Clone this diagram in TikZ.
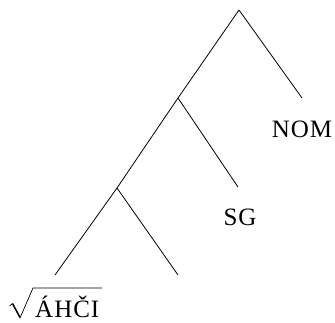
\documentclass[tikz,border=0pt]{standalone}
\usepackage{fontspec}
\setmainfont{Liberation Serif}[LetterSpace=4]
\begin{document}
\begin{tikzpicture}[x=1pt,y=1pt,
  edge/.style={line width=0.8pt},
  lbl/.style={font=\fontsize{25}{28}\selectfont, inner sep=0pt}]
\useasboundingbox (0,0) rectangle (335,322);
\coordinate (root) at (239,312);
\coordinate (n1) at (178,224);
\coordinate (nomend) at (302,224);
\coordinate (n2) at (117,134);
\coordinate (sgend) at (238,135);
\coordinate (leafA) at (55,47);
\coordinate (leafB) at (178,47);
\node[lbl] (nom) at (302,193) {NOM};
\node[lbl] (sg) at (240,105) {SG};
\node[lbl, anchor=base west] (rootlbl) at (35,5) {ÁHČI};
% radical sign
\draw[line width=0.7pt, line join=miter] (9.5,16) -- (12.5,18.5);
\draw[line width=1.5pt] (12.5,18.5) -- (20,4.5);
\draw[line width=0.7pt, line join=miter] (20,4) -- (33,34) -- (102,34);
\draw[edge] (root) -- (n1);
\draw[edge] (root) -- (nomend);
\draw[edge] (n1) -- (n2);
\draw[edge] (n1) -- (sgend);
\draw[edge] (n2) -- (leafA);
\draw[edge] (n2) -- (leafB);
\end{tikzpicture}
\end{document}
